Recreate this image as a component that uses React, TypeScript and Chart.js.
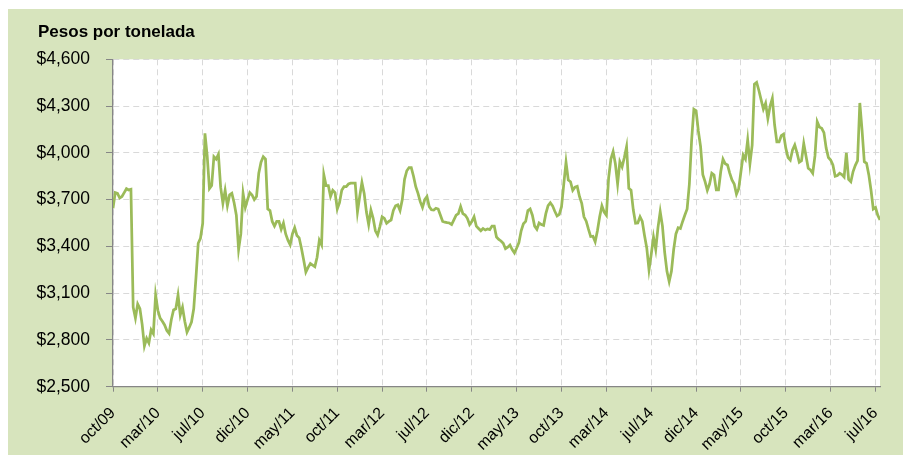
import React, { useEffect, useRef } from "react";
import { Chart, registerables } from "chart.js";

Chart.register(...registerables);

// Weekly prices (pesos per tonne), oct/09 .. aug/16
const weeklyPrices: number[] = [
  3644, 3745, 3740, 3710, 3720, 3745, 3770, 3762, 3766, 3010,
  2940, 3030, 3000, 2900, 2760, 2810, 2780, 2864, 2840, 3088,
  2990, 2940, 2920, 2896, 2860, 2842, 2930, 2992, 3000, 3088,
  2960, 3010, 2920, 2850, 2880, 2915, 3000, 3200, 3420, 3452,
  3548, 4125, 3980, 3770, 3790, 3975, 3960, 3990, 3780, 3676,
  3760, 3660, 3730, 3740, 3680, 3600, 3380, 3480, 3740, 3650,
  3700, 3745, 3730, 3700, 3720, 3870, 3940, 3975, 3960, 3640,
  3630, 3560, 3530, 3560, 3560, 3510, 3550, 3480, 3440, 3410,
  3480, 3520, 3470, 3455, 3390, 3315, 3235, 3265, 3290, 3280,
  3270, 3330, 3440, 3410, 3860, 3790, 3790, 3720, 3760, 3745,
  3640, 3680, 3760, 3783, 3783, 3800, 3805, 3805, 3805, 3620,
  3720, 3810, 3740, 3620, 3540, 3633, 3580, 3500, 3473, 3527,
  3590, 3580, 3548, 3560, 3569, 3630, 3660, 3666, 3630, 3700,
  3830, 3885, 3905, 3905, 3850, 3783, 3740, 3687, 3650, 3700,
  3720, 3655, 3635, 3633, 3645, 3640, 3600, 3560, 3555, 3552,
  3550, 3540, 3570, 3600, 3610, 3655, 3610, 3601, 3580, 3540,
  3560, 3590, 3530, 3515, 3500, 3515, 3505, 3512, 3508, 3530,
  3530, 3460, 3445, 3435, 3420, 3385, 3395, 3409, 3380, 3358,
  3390, 3425, 3500, 3545, 3560, 3630, 3640, 3600, 3530, 3510,
  3550, 3540, 3535, 3610, 3662, 3680, 3660, 3625, 3595, 3605,
  3655, 3800, 3940, 3826, 3815, 3760, 3780, 3785, 3720, 3676,
  3590, 3562, 3510, 3463, 3465, 3430, 3500, 3590, 3660, 3620,
  3600, 3840, 3960, 4008, 3930, 3800, 3943, 3910, 3970, 4040,
  3772, 3760, 3633, 3548, 3550, 3590, 3560, 3470, 3390, 3250,
  3350, 3460, 3380, 3520, 3623, 3530, 3360, 3240, 3174, 3240,
  3380, 3480, 3520, 3515, 3560, 3601, 3640, 3800, 4080, 4280,
  4270, 4140, 4040, 3860, 3815, 3760, 3800, 3869, 3858, 3762,
  3762, 3880, 3960, 3930, 3922, 3870, 3826, 3800, 3735, 3770,
  3880, 3986, 3960, 4083, 3930, 4050, 4440, 4452, 4400, 4340,
  4280, 4318, 4220, 4300, 4350, 4180, 4070, 4070, 4110, 4120,
  4030, 3970, 3954, 4018, 4050, 4000, 3940, 3950, 4060, 3980,
  3901, 3890, 3869, 3980, 4200, 4165, 4157, 4130, 4030, 3970,
  3954, 3922, 3850, 3855, 3869, 3860, 3845, 4000, 3830, 3815,
  3880, 3920, 3950, 4320, 4146, 3943, 3933, 3860, 3760, 3640,
  3650, 3600, 3570,
];

// One label every 20 weeks
const tickLabels: string[] = [
  "oct/09", "mar/10", "jul/10", "dic/10", "may/11", "oct/11",
  "mar/12", "jul/12", "dic/12", "may/13", "oct/13", "mar/14",
  "jul/14", "dic/14", "may/15", "oct/15", "mar/16", "jul/16",
];
const weeksPerTick = 20;

const yMin = 2500;
const yMax = 4600;
const yStep = 300;

const titleText = "Pesos por tonelada";

const FONT = "'Liberation Sans', Arial, Helvetica, sans-serif";
const BG = "#d7e4bd";
const LINE = "#9bbb59";
const AXIS = "#868686";
const GRID = "#d9d9d9";

const W = 903;
const H = 447;

export default function App() {
  const ref = useRef<HTMLCanvasElement | null>(null);

  useEffect(() => {
    document.body.style.overflow = "hidden";
    document.documentElement.style.overflow = "hidden";
    const canvas = ref.current;
    if (!canvas) return;

    const bgPlugin = {
      id: "bgPlugin",
      beforeDraw(chart: any) {
        const { ctx, chartArea } = chart;
        ctx.save();
        ctx.fillStyle = BG;
        ctx.fillRect(0, 1, chart.width, chart.height - 1);
        ctx.fillStyle = "#ffffff";
        ctx.fillRect(
          chartArea.left,
          chartArea.top,
          chartArea.right - chartArea.left,
          chartArea.bottom - chartArea.top
        );
        ctx.restore();
      },
      afterDraw(chart: any) {
        const { ctx } = chart;
        ctx.save();
        ctx.fillStyle = "#000000";
        ctx.font = `bold 17px ${FONT}`;
        ctx.textAlign = "left";
        ctx.textBaseline = "alphabetic";
        ctx.fillText(titleText, 30, 28.7);
        ctx.restore();
      },
    };

    const chart = new Chart(canvas, {
      type: "line",
      data: {
        datasets: [
          {
            data: weeklyPrices.map((v, i) => ({ x: i, y: v })),
            borderColor: LINE,
            borderWidth: 2.75,
            pointRadius: 0,
            tension: 0,
            fill: false,
          },
        ],
      },
      options: {
        responsive: false,
        animation: false,
        events: [],
        layout: { padding: { top: 51.3, right: 31, left: 0, bottom: 0 } },
        plugins: {
          legend: { display: false },
          title: { display: false },
          tooltip: { enabled: false },
        },
        scales: {
          x: {
            type: "linear",
            min: 0,
            max: weeklyPrices.length - 1,
            afterFit(scale: any) {
              scale.height = 68.3;
            },
            ticks: {
              stepSize: weeksPerTick,
              includeBounds: false,
              autoSkip: false,
              minRotation: 45,
              maxRotation: 45,
              padding: 12,
              color: "#000000",
              font: { family: FONT, size: 16 },
              callback: (v: any) => {
                const idx = Math.round(Number(v) / weeksPerTick);
                return tickLabels[idx] ?? "";
              },
            },
            grid: {
              color: GRID,
              lineWidth: 1,
              tickColor: AXIS,
              tickLength: 5,
              drawTicks: true,
            },
            border: { display: true, color: AXIS, width: 1.25, dash: [6, 4] },
          },
          y: {
            min: yMin,
            max: yMax,
            afterFit(scale: any) {
              scale.width = 105;
            },
            ticks: {
              stepSize: yStep,
              padding: 16,
              color: "#000000",
              font: { family: FONT, size: 17.5 },
              callback: (v: any) => "$" + Number(v).toLocaleString("en-US"),
            },
            grid: {
              color: GRID,
              lineWidth: 1,
              tickColor: AXIS,
              tickLength: 7,
              drawTicks: true,
            },
            border: { display: true, color: AXIS, width: 1.25, dash: [6, 4] },
          },
        },
      },
      plugins: [bgPlugin],
    } as any);

    return () => {
      chart.destroy();
    };
  }, []);

  return (
    <div style={{ width: W, height: H }}>
      <canvas ref={ref} width={W} height={H} style={{ display: "block" }} />
    </div>
  );
}
